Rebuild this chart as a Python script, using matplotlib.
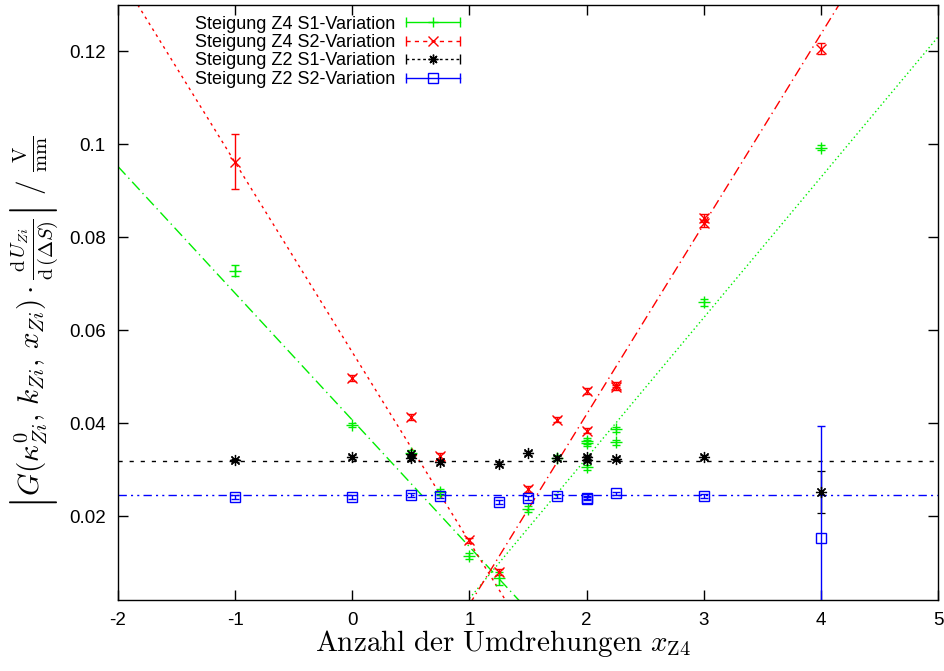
import numpy as np
import matplotlib
matplotlib.use("Agg")
import matplotlib.pyplot as plt
from matplotlib.ticker import FormatStrFormatter, FixedLocator
from matplotlib.legend_handler import HandlerBase
from matplotlib.lines import Line2D

plt.rcParams['font.family'] = ['Liberation Sans', 'DejaVu Sans']
plt.rcParams['mathtext.fontset'] = 'cm'

# Steigung Z4 S1-Variation (green +)
z4s1_x = [-1, 0, 0.5, 0.75, 1, 1.25, 1.5, 1.75, 2, 2, 2, 2.25, 2.25, 3, 4]
z4s1_y = [0.0728, 0.0396, 0.0336, 0.0252, 0.0114, 0.0066, 0.0216, 0.0326,
          0.0362, 0.0358, 0.0305, 0.0387, 0.0359, 0.0660, 0.0993]
z4s1_e = [0.0012, 0.0005, 0.0006, 0.0006, 0.0006, 0.0014, 0.0006, 0.0006,
          0.0006, 0.0006, 0.0006, 0.0006, 0.0006, 0.0008, 0.0006]

# Steigung Z4 S2-Variation (red x)
z4s2_x = [-1, 0, 0.5, 0.75, 1, 1.25, 1.5, 1.75, 2, 2, 2.25, 2.25, 3, 3, 4]
z4s2_y = [0.0963, 0.0497, 0.0413, 0.0329, 0.0148, 0.0080, 0.0258, 0.0408,
          0.0470, 0.0384, 0.0477, 0.0483, 0.0830, 0.0842, 0.1206]
z4s2_e = [0.0060, 0.0006, 0.0006, 0.0006, 0.0006, 0.0006, 0.0006, 0.0006,
          0.0006, 0.0006, 0.0006, 0.0006, 0.0008, 0.0008, 0.0012]

# Steigung Z2 S1-Variation (black star)
z2s1_x = [-1, 0, 0.5, 0.5, 0.75, 1.25, 1.5, 1.75, 2, 2, 2.25, 3, 4]
z2s1_y = [0.0320, 0.0328, 0.0333, 0.0326, 0.0316, 0.0312, 0.0336, 0.0326,
          0.0327, 0.0320, 0.0324, 0.0327, 0.0252]
z2s1_e = [0.0004, 0.0004, 0.0004, 0.0004, 0.0004, 0.0004, 0.0004, 0.0004,
          0.0004, 0.0004, 0.0004, 0.0004, 0.0046]

# Steigung Z2 S2-Variation (blue square)
z2s2_x = [-1, 0, 0.5, 0.75, 1.25, 1.5, 1.75, 2, 2, 2.25, 3, 4]
z2s2_y = [0.0241, 0.0242, 0.0245, 0.0243, 0.0231, 0.0239, 0.0243, 0.0240,
          0.0238, 0.0249, 0.0243, 0.0154]
z2s2_e = [0.0004, 0.0004, 0.0004, 0.0004, 0.0004, 0.0004, 0.0004, 0.0004,
          0.0004, 0.0004, 0.0004, 0.0240]

# fit lines: (slope, intercept)
fit_z4s1_left = (-0.02727, 0.0407)
fit_z4s1_right = (0.0302, -0.0279)
fit_z4s2_left = (-0.0408, 0.0553)
fit_z4s2_right = (0.0409, -0.0399)
fit_z2s1 = (0.0, 0.0319)
fit_z2s2 = (0.0, 0.0245)

labels = ["Steigung Z4 S1-Variation", "Steigung Z4 S2-Variation",
          "Steigung Z2 S1-Variation", "Steigung Z2 S2-Variation"]
xticks = [-2, -1, 0, 1, 2, 3, 4, 5]
yticks = [0.02, 0.04, 0.06, 0.08, 0.1, 0.12]

GREEN = '#00ee00'
RED = '#ff0000'
BLACK = '#000000'
BLUE = '#0000ff'
STAR = (8, 2, 0)

fig = plt.figure(figsize=(9.44, 6.71), dpi=100)
ax = fig.add_axes([0.125, 0.106, 0.8686, 0.8866])

xx = np.linspace(-2, 5, 200)

def fitline(p, color, ls, lw=1.0):
    ax.plot(xx, p[0] * xx + p[1], color=color, ls=ls, lw=lw, zorder=1)

fitline(fit_z4s1_left, GREEN, (0, (8, 3, 1, 3)))
fitline(fit_z4s1_right, GREEN, (0, (1, 2)))
fitline(fit_z4s2_left, RED, (0, (2, 3)))
fitline(fit_z4s2_right, RED, (0, (7, 3, 1, 3)))
fitline(fit_z2s1, BLACK, (0, (3, 5)))
fitline(fit_z2s2, BLUE, (0, (6, 3, 1.5, 3, 1.5, 3)))

ekw = dict(ls='none', capsize=3, elinewidth=1.0, capthick=1.0, zorder=3)
ax.errorbar(z4s1_x, z4s1_y, yerr=z4s1_e, color=GREEN, marker='+', ms=8, mew=1.0, **ekw)
ax.errorbar(z4s2_x, z4s2_y, yerr=z4s2_e, color=RED, marker='x', ms=7, mew=1.0, **ekw)
ax.errorbar(z2s1_x, z2s1_y, yerr=z2s1_e, color=BLACK, marker=STAR, ms=8, mew=0.9, **ekw)
ax.errorbar(z2s2_x, z2s2_y, yerr=z2s2_e, color=BLUE, marker='s', ms=7, mew=1.0,
            mfc='none', **ekw)

ax.set_xlim(-2, 5)
ax.set_ylim(0.002, 0.13)
ax.xaxis.set_major_locator(FixedLocator(xticks))
ax.yaxis.set_major_locator(FixedLocator(yticks))
ax.yaxis.set_major_formatter(FormatStrFormatter('%g'))
ax.xaxis.set_major_formatter(FormatStrFormatter('%g'))
ax.tick_params(direction='in', length=7, width=1, top=True, right=True,
               labelsize=13.5, pad=9)
for s in ax.spines.values():
    s.set_linewidth(1.0)

ax.set_xlabel(r"$\mathrm{Anzahl\ der\ Umdrehungen}\ x_{\mathrm{Z4}}$", fontsize=21)
ax.xaxis.set_label_coords(0.4695, -0.047)
ax.set_ylabel(r"$\left|G(\kappa^0_{Zi},\,k_{Zi},\,x_{Zi})\cdot\frac{\mathrm{d}\,U_{Zi}}{\mathrm{d}\,(\Delta S)}\right|\ /\ \frac{\mathrm{V}}{\mathrm{mm}}$",
              fontsize=21)
ax.yaxis.set_label_coords(-0.07, 0.467)


class ErrKeyHandler(HandlerBase):
    def __init__(self, color, ls, marker, mfc):
        super().__init__()
        self.color, self.ls, self.marker, self.mfc = color, ls, marker, mfc

    def create_artists(self, legend, orig_handle, xdescent, ydescent, width,
                       height, fontsize, trans):
        y = height / 2 - ydescent
        x0, x1 = -xdescent, width - xdescent
        line = Line2D([x0, x1], [y, y], color=self.color, ls=self.ls, lw=1.0)
        caps = Line2D([x0, x1], [y, y], color=self.color, ls='none',
                      marker='|', ms=7, mew=1.0)
        mk = Line2D([(x0 + x1) / 2], [y], color=self.color, ls='none',
                    marker=self.marker, ms=7, mew=1.0, mfc=self.mfc)
        for a in (line, caps, mk):
            a.set_transform(trans)
        return [line, caps, mk]


proxies = [Line2D([], []) for _ in labels]
handler_map = {
    proxies[0]: ErrKeyHandler(GREEN, '-', '+', GREEN),
    proxies[1]: ErrKeyHandler(RED, (0, (3, 3)), 'x', RED),
    proxies[2]: ErrKeyHandler(BLACK, (0, (2, 2)), STAR, BLACK),
    proxies[3]: ErrKeyHandler(BLUE, '-', 's', 'none'),
}
ax.legend(proxies, labels, handler_map=handler_map, loc='upper left',
          bbox_to_anchor=(0.077, 1.005), frameon=False, markerfirst=False,
          fontsize=13, handlelength=3.0, handletextpad=0.6,
          labelspacing=0.08, borderaxespad=0.35)

fig.savefig("out.png", dpi=100)
